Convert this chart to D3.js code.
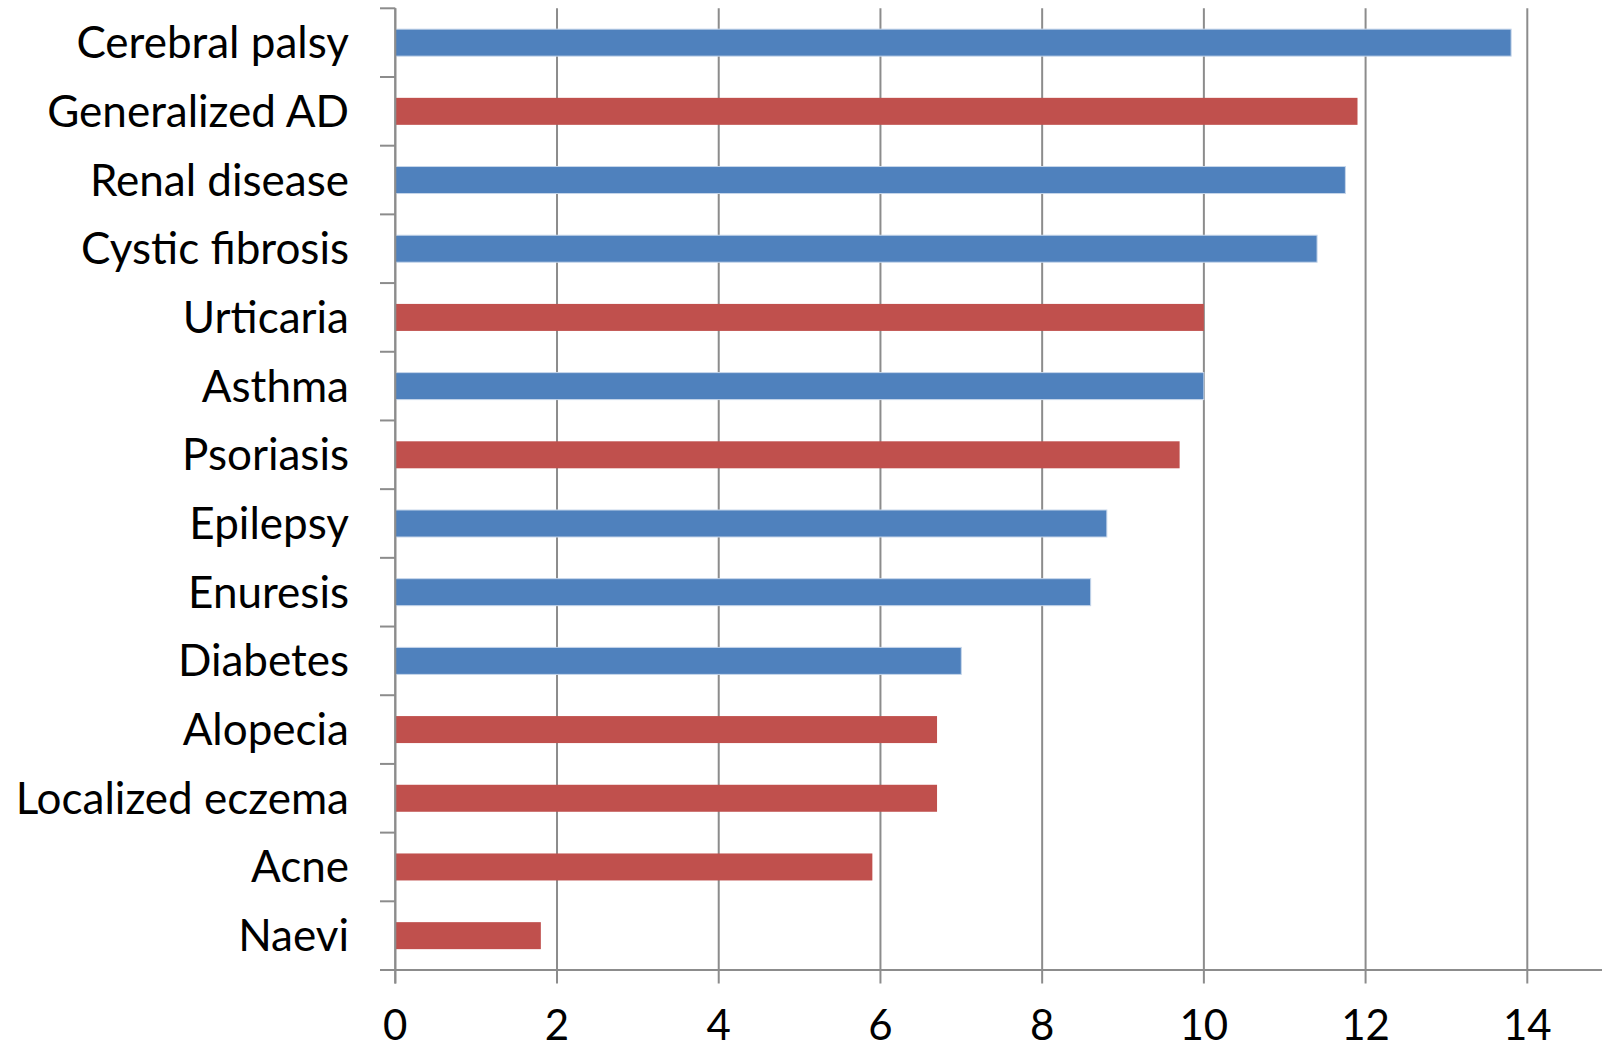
<!DOCTYPE html>
<html>
<head>
<meta charset="utf-8">
<script src="https://cdn.jsdelivr.net/npm/d3@7"></script>
<style>
  body { margin: 0; background: #fff; }
  text { font-family: Lato, "Open Sans", sans-serif; fill: #000; }
</style>
</head>
<body>
<div id="chart"></div>
<script>
// conditions, top to bottom
var conditions = ["Cerebral palsy", "Generalized AD", "Renal disease", "Cystic fibrosis",
  "Urticaria", "Asthma", "Psoriasis", "Epilepsy", "Enuresis", "Diabetes",
  "Alopecia", "Localized eczema", "Acne", "Naevi"];
var values = [13.8, 11.9, 11.75, 11.4, 10, 10, 9.7, 8.8, 8.6, 7.0, 6.7, 6.7, 5.9, 1.8];
// "b" = non-skin (blue), "r" = skin (red)
var groups = ["b", "r", "b", "b", "r", "b", "r", "b", "b", "b", "r", "r", "r", "r"];
var xTicks = [0, 2, 4, 6, 8, 10, 12, 14];

var width = 1602,
  height = 1043,
  x0 = 395.3, plotTop = 8.3, plotBottom = 970,
  colors = { b: "#4F81BD", r: "#C0504D" };

var svg = d3.select("#chart").append("svg")
  .attr("width", width)
  .attr("height", height);

var xScale = d3.scaleLinear()
  .domain([0, 14])
  .range([x0, 1527.3]);

var yScale = d3.scaleBand()
  .domain(conditions)
  .range([plotTop, plotBottom])
  .paddingInner(0.607)
  .paddingOuter(0.3035);

var rows = d3.scaleBand().domain(conditions).range([plotTop, plotBottom]);

// vertical gridlines
svg.append("g")
  .selectAll("line")
  .data(xTicks)
  .enter()
  .append("line")
  .attr("x1", d => xScale(d))
  .attr("x2", d => xScale(d))
  .attr("y1", plotTop)
  .attr("y2", 983.5)
  .attr("stroke", "#8c8c8c")
  .attr("stroke-width", 2);

// bars
svg.append("g")
  .selectAll("rect")
  .data(conditions)
  .enter()
  .append("rect")
  .attr("x", xScale(0))
  .attr("y", d => yScale(d))
  .attr("width", (d, i) => xScale(values[i]) - xScale(0))
  .attr("height", yScale.bandwidth())
  .attr("fill", (d, i) => colors[groups[i]])
  .attr("stroke", (d, i) => groups[i] === "b" ? "#c6d6ea" : "none")
  .attr("stroke-width", 1);

// category axis line + ticks
svg.append("line")
  .attr("x1", x0).attr("x2", x0)
  .attr("y1", plotTop).attr("y2", 983.5)
  .attr("stroke", "#8c8c8c").attr("stroke-width", 2);

svg.append("g")
  .selectAll("line")
  .data(conditions)
  .enter()
  .append("line")
  .attr("x1", 380).attr("x2", x0)
  .attr("y1", d => rows(d)).attr("y2", d => rows(d))
  .attr("stroke", "#8c8c8c").attr("stroke-width", 2);

// value axis line
svg.append("line")
  .attr("x1", 380).attr("x2", width)
  .attr("y1", plotBottom).attr("y2", plotBottom)
  .attr("stroke", "#8c8c8c").attr("stroke-width", 2);

// category labels
svg.append("g")
  .selectAll("text")
  .data(conditions)
  .enter()
  .append("text")
  .attr("x", 349)
  .attr("y", d => rows(d) + rows.bandwidth() / 2 + 15.5)
  .attr("text-anchor", "end")
  .attr("font-size", 44)
  .text(d => d);

// tick labels
svg.append("g")
  .selectAll("text")
  .data(xTicks)
  .enter()
  .append("text")
  .attr("x", d => xScale(d))
  .attr("y", 1040)
  .attr("text-anchor", "middle")
  .attr("font-size", 42)
  .text(d => d);
</script>
</body>
</html>
